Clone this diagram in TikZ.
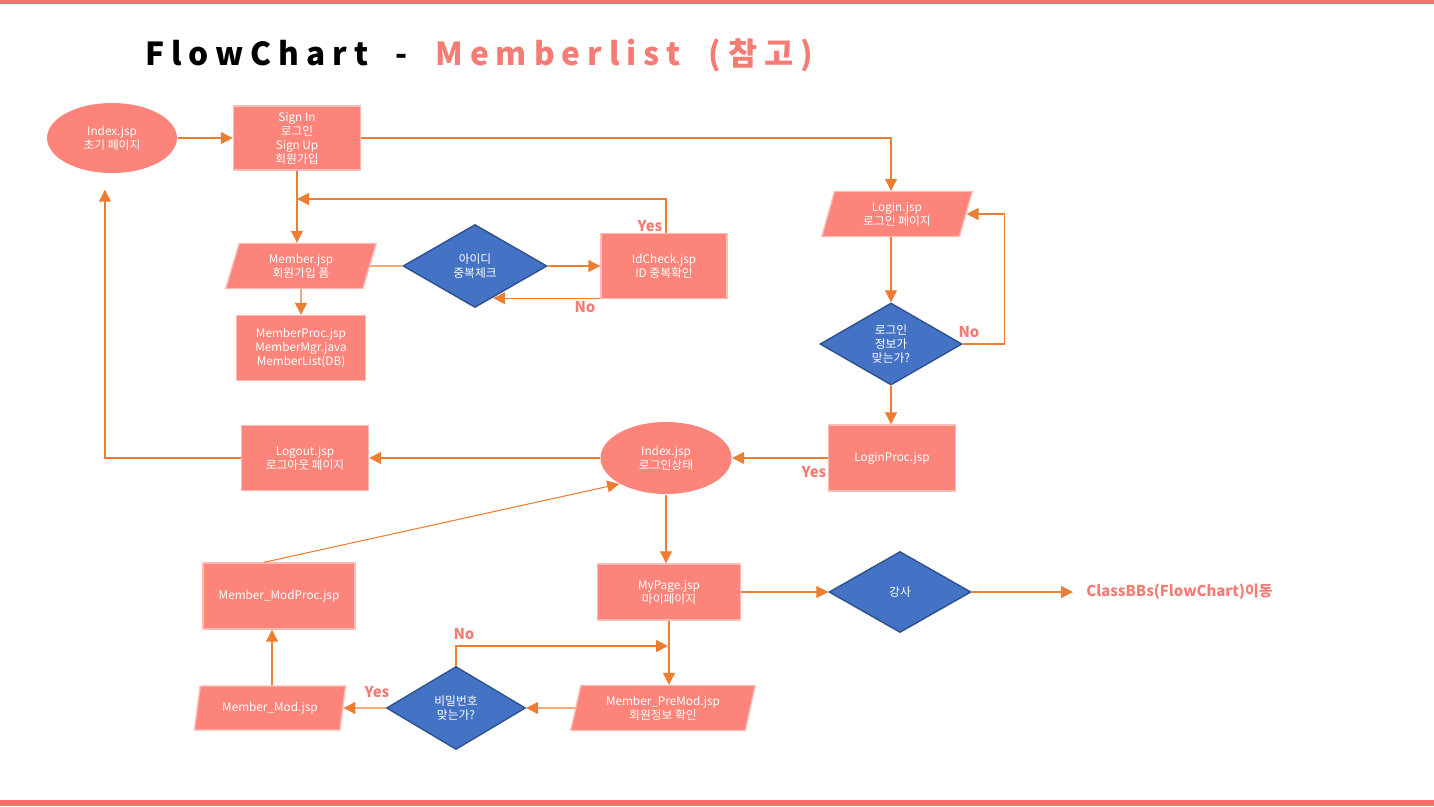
\documentclass[tikz,border=0pt]{standalone}
\usepackage{fontspec}
\setmainfont{Noto Sans CJK KR}
\usepackage{xcolor}
\usepackage{tikz}
\usetikzlibrary{arrows.meta,shapes.geometric}

\definecolor{bandred}{HTML}{F4736C}
\definecolor{boxred}{HTML}{FC847A}
\definecolor{boxline}{HTML}{F9BDB5}
\definecolor{titlered}{HTML}{F47C74}
\definecolor{flowor}{HTML}{ED7D31}
\definecolor{askblue}{HTML}{4472C4}
\definecolor{askline}{HTML}{2F528F}

\tikzset{
  base/.style={fill=boxred, draw=boxline, line width=0.8pt, text=white, align=center,
    font=\fontsize{6.7pt}{8pt}\selectfont, inner sep=1pt},
  procbox/.style={base, rectangle},
  iobox/.style={base, trapezium, trapezium left angle=76, trapezium right angle=104,
    trapezium stretches=true, inner xsep=0pt},
  term/.style={base, ellipse, draw=none},
  ask/.style={base, diamond, fill=askblue, draw=askline, inner sep=0pt},
  flow/.style={draw=flowor, line width=0.6pt, -{Triangle[length=0.24cm, width=0.24cm]}},
  plainline/.style={draw=flowor, line width=0.6pt},
  yesno/.style={text=titlered, font=\fontsize{8.5pt}{9pt}\selectfont\bfseries}
}

\begin{document}
\begin{tikzpicture}[x=0.02cm, y=-0.02cm]
\useasboundingbox (0,0) rectangle (1434,806);
\fill[bandred] (0,0) rectangle (1434,4);
\fill[bandred] (0,800) rectangle (1434,806);

% title
\node[anchor=west, inner sep=0pt, font=\fontsize{18pt}{20pt}\selectfont\bfseries\addfontfeature{LetterSpace=22}] (title) at (145,55)
  {FlowChart\hspace{7pt} -\hspace{8pt} \textcolor{titlered}{Memberlist\hspace{8pt} (참고)}};

% top part
\node[term, minimum width=2.6cm, minimum height=1.4cm] (idx) at (112,138) {Index.jsp\\초기 페이지};
\node[procbox, minimum width=2.54cm, minimum height=1.28cm] (sign) at (297,138) {Sign In\\로그인\\Sign Up\\회원가입};
\node[iobox, minimum width=3.02cm, minimum height=0.9cm] (member) at (301,266) {Member.jsp\\회원가입 폼};
\node[ask, minimum width=2.88cm, minimum height=1.66cm] (dup) at (475,266) {아이디\\중복체크};
\node[procbox, minimum width=2.52cm, minimum height=1.3cm] (idc) at (664,266) {IdCheck.jsp\\ID 중복확인};
\node[procbox, minimum width=2.58cm, minimum height=1.3cm] (mproc) at (301,348) {MemberProc.jsp\\MemberMgr.java\\MemberList(DB)};

% login column
\node[iobox, minimum width=3.02cm, minimum height=0.9cm] (login) at (897,214) {Login.jsp\\로그인 페이지};
\node[ask, minimum width=2.84cm, minimum height=1.64cm] (chk) at (891,344) {로그인\\정보가\\맞는가?};
\node[procbox, minimum width=2.54cm, minimum height=1.32cm] (lproc) at (892,458) {LoginProc.jsp};

% logged in
\node[term, minimum width=2.62cm, minimum height=1.44cm] (idx2) at (666,458) {Index.jsp\\로그인상태};
\node[procbox, minimum width=2.54cm, minimum height=1.3cm] (logout) at (305,458) {Logout.jsp\\로그아웃 페이지};
\node[procbox, minimum width=3.04cm, minimum height=1.32cm] (modproc) at (279,596) {Member\_ModProc.jsp};
\node[procbox, minimum width=2.86cm, minimum height=1.12cm] (mypage) at (669,592) {MyPage.jsp\\마이페이지};
\node[ask, minimum width=2.84cm, minimum height=1.62cm] (teach) at (900,592) {강사};
\node[anchor=west, inner sep=0pt, text=titlered, font=\fontsize{8.5pt}{9pt}\selectfont\bfseries] (cls) at (1086,592) {ClassBBs(FlowChart)이동};
\node[iobox, minimum width=3.7cm, minimum height=0.9cm] (premod) at (663,708) {Member\_PreMod.jsp\\회원정보 확인};
\node[ask, minimum width=2.78cm, minimum height=1.66cm] (pw) at (456,708) {비밀번호\\맞는가?};
\node[iobox, minimum width=3.04cm, minimum height=0.88cm] (mmod) at (270,708) {Member\_Mod.jsp};

\coordinate (yesin) at (297,199);
\coordinate (noin) at (668,646);

% connectors
\draw[flow] (idx.east) -- (sign.west);
\draw[flow] (sign.east) -| (chk.north |- login.north);
\draw[flow] (sign.south) -- (sign.south |- member.north);
\draw[plainline] (member.east) -- (dup.west);
\draw[flow] (dup.east) -- (idc.west);
\draw[flow] ([xshift=0.04cm]idc.north) |- (yesin);
\draw[flow] ([yshift=0.02cm]idc.south west) -- ([yshift=0.02cm]idc.south west -| dup.-60);
\draw[flow] (member.south) -- (mproc.north);
\draw[flow] (chk.north |- login.south) -- (chk.north);
\draw[flow] (chk.east) -- ++(42,0) |- (login.east);
\draw[flow] (chk.south) -- (chk.south |- lproc.north);
\draw[flow] (lproc.west) -- (idx2.east);
\draw[flow] (idx2.west) -- (logout.east);
\draw[flow, shorten >=0.32cm] (logout.west) -| ([xshift=-0.14cm]idx.south);
\draw[flow] ([xshift=-0.3cm]modproc.north) -- (idx2.south west);
\draw[flow] (idx2.south) -- (idx2.south |- mypage.north);
\draw[flow] (mypage.east) -- (teach.west);
\draw[flow, shorten >=0.26cm] (teach.east) -- (cls.west);
\draw[flow] (mypage.south) -- (mypage.south |- premod.north);
\draw[flow] (premod.west) -- (pw.east);
\draw[flow] (pw.west) -- (mmod.east);
\draw[flow] (pw.north) |- (noin);
\draw[flow] ([xshift=0.04cm]mmod.north) -- ([xshift=0.04cm]mmod.north |- modproc.south);

% yes / no
\node[yesno] (yes1) at (650,226) {Yes};
\node[yesno] (no1) at (585,307) {No};
\node[yesno] (no2) at (969,332) {No};
\node[yesno] (yes2) at (814,472) {Yes};
\node[yesno] (yes3) at (377,692) {Yes};
\node[yesno] (no3) at (464,634) {No};
\end{tikzpicture}
\end{document}
